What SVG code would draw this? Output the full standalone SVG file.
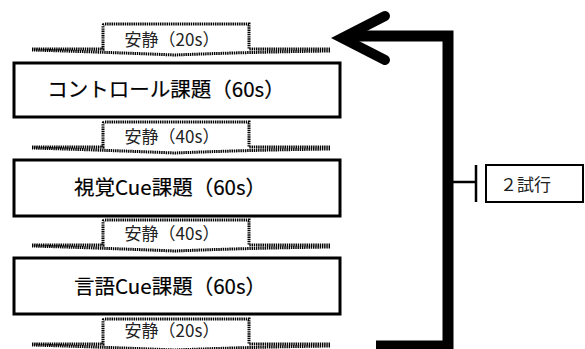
<svg xmlns="http://www.w3.org/2000/svg" width="585" height="349" viewBox="0 0 585 349">
<style>
.box{fill:#fff;stroke:#000;stroke-width:3}
.rest{fill:none;stroke:#000;stroke-width:3;stroke-dasharray:1.4 0.8}
.t{font-family:"Noto Sans CJK JP","Noto Sans",sans-serif;fill:#000;text-anchor:middle}
.big{font-size:20.5px;stroke:#000;stroke-width:0.2}
.sm{font-size:17px;fill:#222}
.conn{fill:none;stroke:#000}
</style>
<defs>
<path id="restShape" d="M32,25 H103 V2 Q103,0 105,0 H249 V25 H330 M330,27 Q250,28 175,31 Q100,28 32,26"/>
</defs>
<rect width="585" height="349" fill="#fff"/>
<g id="rest1">
<use href="#restShape" class="rest" transform="translate(0,24)"/>
<text class="t sm" x="172" y="46">安静（20s）</text>
</g>
<g id="task1">
<rect class="box" x="14" y="63" width="326" height="54"/>
<text class="t big" x="166" y="97">コントロール課題（60s）</text>
</g>
<g id="rest2">
<use href="#restShape" class="rest" transform="translate(0,122)"/>
<text class="t sm" x="172" y="143">安静（40s）</text>
</g>
<g id="task2">
<rect class="box" x="14" y="160" width="326" height="56"/>
<text class="t big" x="170" y="195">視覚Cue課題（60s）</text>
</g>
<g id="rest3">
<use href="#restShape" class="rest" transform="translate(0,220)"/>
<text class="t sm" x="172" y="240">安静（40s）</text>
</g>
<g id="task3">
<rect class="box" x="14" y="258" width="326" height="56"/>
<text class="t big" x="170" y="294">言語Cue課題（60s）</text>
</g>
<g id="rest4">
<use href="#restShape" class="rest" transform="translate(0,319)"/>
<text class="t sm" x="172" y="337">安静（20s）</text>
</g>
<g id="connectors">
<path class="conn" d="M376,346 H448 V36 H352" stroke-width="11" stroke-linejoin="miter"/>
<polyline class="conn" points="385,16 342,38 385,60" stroke-width="10" stroke-linecap="round" stroke-linejoin="miter"/>
<path class="conn" d="M453,182 H476 M476,165 V202" stroke-width="2.5"/>
</g>
<g id="trials">
<rect x="486" y="165" width="97" height="37" fill="#fff" stroke="#000" stroke-width="2"/>
<text class="t" x="500" y="191" style="font-size:17px;text-anchor:start;fill:#222">２試行</text>
</g>
</svg>
